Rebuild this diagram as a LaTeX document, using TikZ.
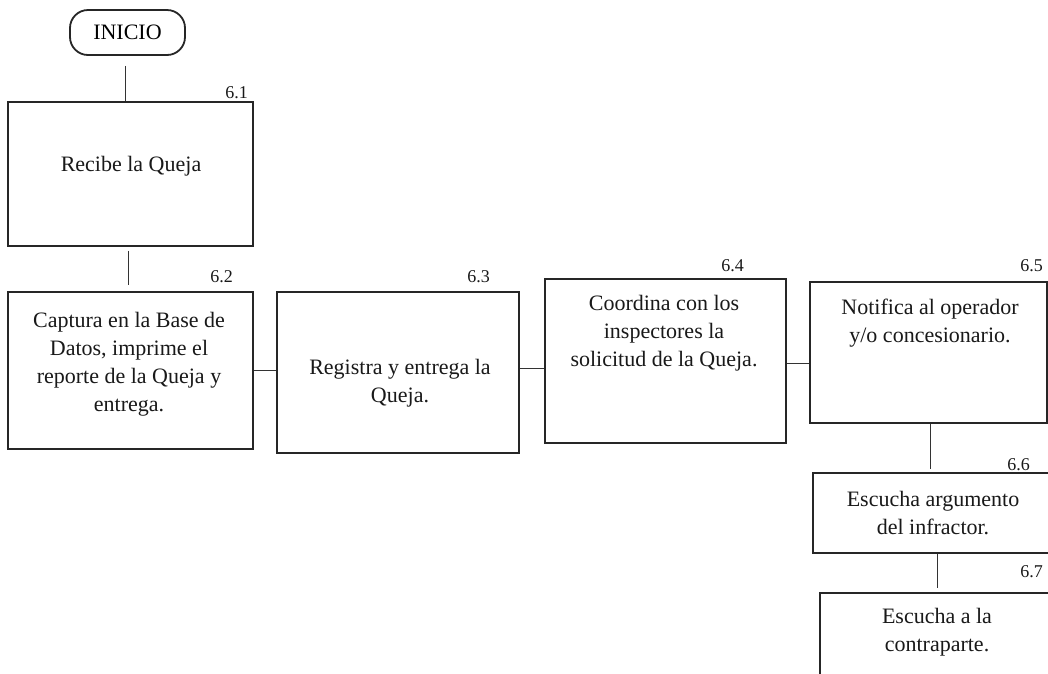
\documentclass[tikz,border=0pt]{standalone}
\usepackage{fontspec}
\setmainfont{Liberation Serif}
\begin{document}
\begin{tikzpicture}[x=1pt,y=-1pt,
  box/.style={draw=black!85, line width=1.8pt, inner sep=0pt},
  txt/.style={align=center, inner sep=0pt, text=black!90, font=\fontsize{22}{28}\selectfont},
  num/.style={anchor=base east, inner sep=0pt, text=black!90, font=\fontsize{18}{20}\selectfont},
  conn/.style={draw=black!80, line width=0.8pt}]
\useasboundingbox (0,0) rectangle (1048,673);
\clip (0,0) rectangle (1048,673);
\fill[white] (0,0) rectangle (1048,673);

% start
\node[box, rounded corners=18pt, minimum width=115pt, minimum height=45pt,
      font=\fontsize{22}{26}\selectfont] (ini) at (127.5,32.5) {INICIO};

% boxes
\node[box, minimum width=245pt, minimum height=144pt] (b1) at (130.5,174) {};
\node[box, minimum width=245pt, minimum height=157pt] (b2) at (130.5,370.5) {};
\node[box, minimum width=242pt, minimum height=161pt] (b3) at (398,372.5) {};
\node[box, minimum width=241pt, minimum height=164pt] (b4) at (665.5,361) {};
\node[box, minimum width=237pt, minimum height=141pt] (b5) at (928.5,352.5) {};
\node[box, minimum width=239pt, minimum height=80pt] (b6) at (932.5,513) {};
\node[box, minimum width=236pt, minimum height=107pt] (b7) at (938,646.5) {};

% texts
\node[txt] (t1) at (131,166) {Recibe la Queja};
\node[txt] (t2) at (129,364) {Captura en la Base de\\Datos, imprime el\\reporte de la Queja y\\entrega.};
\node[txt] (t3) at (400,383) {Registra y entrega la\\Queja.};
\node[txt] (t4) at (664,333) {Coordina con los\\inspectores la\\solicitud de la Queja.};
\node[txt] (t5) at (930,323) {Notifica al operador\\y/o concesionario.};
\node[txt] (t6) at (933,513) {Escucha argumento\\del infractor.};
\node[txt] (t7) at (937,632) {Escucha a la\\contraparte.};

% numbers
\node[num] (n1) at (248,98) {6.1};
\node[num] (n2) at (233,282) {6.2};
\node[num] (n3) at (490,282) {6.3};
\node[num] (n4) at (744,271) {6.4};
\node[num] (n5) at (1043,271) {6.5};
\node[num] (n6) at (1030,470) {6.6};
\node[num] (n7) at (1043,577) {6.7};

% connectors
\draw[conn] ([yshift=-10pt,xshift=-2pt]ini.south) -- ([xshift=-2pt]ini.south |- b1.north);
\draw[conn, shorten <=4pt, shorten >=6pt] ([xshift=-2pt]b1.south) -- ([xshift=-2pt]b1.south |- b2.north);
\draw[conn] (b2.east) -- (b2.east -| b3.west);
\draw[conn] ([yshift=4pt]b3.east) -- ([yshift=4pt]b3.east -| b4.west);
\draw[conn] ([yshift=-2pt]b4.east) -- ([yshift=-2pt]b4.east -| b5.west);
\draw[conn, shorten >=3pt] ([xshift=1.5pt]b5.south) -- ([xshift=1.5pt]b5.south |- b6.north);
\draw[conn, shorten >=4pt] ([xshift=4.5pt]b6.south) -- ([xshift=4.5pt]b6.south |- b7.north);
\end{tikzpicture}
\end{document}
